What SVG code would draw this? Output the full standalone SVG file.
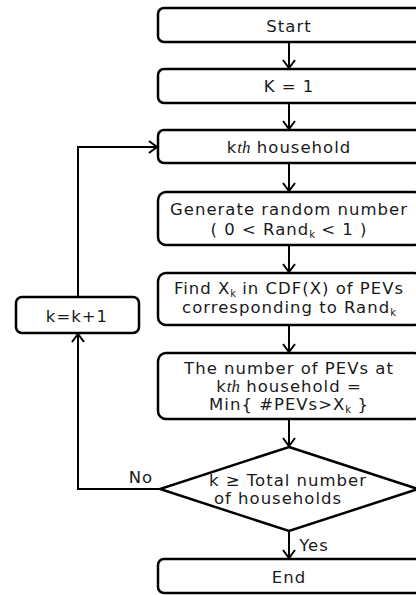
<svg xmlns="http://www.w3.org/2000/svg" width="416" height="595" viewBox="0 0 416 595">
<defs>
<style>
.box{fill:#fff;stroke:#000;stroke-width:2.5}
.ln{fill:none;stroke:#000;stroke-width:2}
.t{font-family:"DejaVu Sans","Noto Sans",sans-serif;font-size:16.5px;letter-spacing:1px;fill:#1a1a1a;text-anchor:middle}
.it{font-family:"Liberation Serif",serif;font-style:italic;font-size:17px;letter-spacing:0}
.sub{font-size:10px;letter-spacing:0}
</style>
<marker id="ar" markerUnits="userSpaceOnUse" markerWidth="12" markerHeight="16" refX="10" refY="7" orient="auto" viewBox="0 0 12 14">
<path d="M2,1 L10,7 L2,13" fill="none" stroke="#000" stroke-width="2"/>
</marker>
</defs>
<rect width="416" height="595" fill="#fff"/>
<g id="connectors">
<path class="ln" d="M289,42 V68" marker-end="url(#ar)"/>
<path class="ln" d="M289,103 V129" marker-end="url(#ar)"/>
<path class="ln" d="M289,163 V191" marker-end="url(#ar)"/>
<path class="ln" d="M289,245 V272" marker-end="url(#ar)"/>
<path class="ln" d="M289,325 V352" marker-end="url(#ar)"/>
<path class="ln" d="M289,419 V446" marker-end="url(#ar)"/>
<path class="ln" d="M289,531 V558" marker-end="url(#ar)"/>
<path class="ln" d="M160,489 H78 V334" marker-end="url(#ar)"/>
<path class="ln" d="M78,297 V147 H157" marker-end="url(#ar)"/>
<text class="t" x="141" y="483">No</text>
<text class="t" x="314" y="551">Yes</text>
</g>
<g id="start">
<rect class="box" x="158" y="8" width="264" height="34" rx="6"/>
<text class="t" x="289" y="32">Start</text>
</g>
<g id="k1">
<rect class="box" x="158" y="69" width="264" height="34" rx="6"/>
<text class="t" x="289" y="92">K = 1</text>
</g>
<g id="kth">
<rect class="box" x="158" y="130" width="264" height="33" rx="6"/>
<text class="t" x="289" y="153">k<tspan class="it">th</tspan> household</text>
</g>
<g id="generate">
<rect class="box" x="158" y="192" width="264" height="53" rx="8"/>
<text class="t" x="289" y="215">Generate random number</text>
<text class="t" x="289" y="235">( 0 &lt; Rand<tspan class="sub" dy="3">k</tspan><tspan dy="-3"> &lt; 1 )</tspan></text>
</g>
<g id="find">
<rect class="box" x="158" y="273" width="264" height="52" rx="8"/>
<text class="t" x="289" y="294">Find X<tspan class="sub" dy="3">k</tspan><tspan dy="-3"> in CDF(X) of PEVs</tspan></text>
<text class="t" x="289" y="313">corresponding to Rand<tspan class="sub" dy="3">k</tspan></text>
</g>
<g id="number">
<rect class="box" x="158" y="353" width="264" height="66" rx="8"/>
<text class="t" x="289" y="374">The number of PEVs at</text>
<text class="t" x="289" y="392">k<tspan class="it">th</tspan> household =</text>
<text class="t" x="289" y="410">Min{ #PEVs&gt;X<tspan class="sub" dy="3">k</tspan><tspan dy="-3"> }</tspan></text>
</g>
<g id="decision">
<polygon class="box" points="289,447 418,489 289,531 160,489"/>
<text class="t" x="288" y="486">k ≥ Total number</text>
<text class="t" x="278" y="504">of households</text>
</g>
<g id="end">
<rect class="box" x="158" y="559" width="264" height="34" rx="6"/>
<text class="t" x="289" y="583">End</text>
</g>
<g id="inc">
<rect class="box" x="16" y="297" width="123" height="36" rx="6"/>
<text class="t" x="77" y="322">k=k+1</text>
</g>
</svg>
